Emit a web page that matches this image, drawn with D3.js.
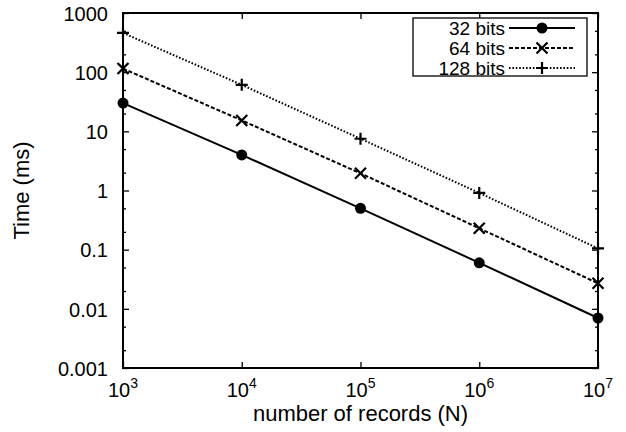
<!DOCTYPE html>
<html>
<head>
<meta charset="utf-8">
<script src="https://cdn.jsdelivr.net/npm/d3@7"></script>
<style>
  body { margin: 0; background: #fff; }
  svg text { font-family: "Liberation Sans", Arial, Helvetica, sans-serif; fill: #000; }
</style>
</head>
<body>
<svg id="chart" width="626" height="432"></svg>
<script>
// DATA
var records = [1e3, 1e4, 1e5, 1e6, 1e7];
var time32 = [30, 4, 0.5, 0.06, 0.007];
var time64 = [115, 15.3, 1.95, 0.23, 0.027];
var time128 = [460, 61, 7.5, 0.91, 0.105];
var seriesNames = ['32 bits', '64 bits', '128 bits'];
var yTickValues = [0.001, 0.01, 0.1, 1, 10, 100, 1000];
var yTickLabels = ['0.001', '0.01', '0.1', '1', '10', '100', '1000'];
var xTickExps = [3, 4, 5, 6, 7];

// LAYOUT
var width = 626, height = 432;
var margin = {top: 13, right: 28, bottom: 64, left: 123};
var svg = d3.select('#chart');

var x = d3.scaleLog().domain([1e3, 1e7]).range([margin.left, width - margin.right]);
var y = d3.scaleLog().domain([0.001, 1000]).range([height - margin.bottom, margin.top]);

// minor ticks at 2 and 5 of each decade
var yMinor = [];
yTickValues.slice(0, -1).forEach(function(v) { yMinor.push(v * 2, v * 5); });

//.................................................................................//
// AXES
var tickFmt = function(d) { return yTickLabels[yTickValues.indexOf(d)]; };

var yLeft = svg.append('g').attr('transform', 'translate(' + margin.left + ',0)');
yLeft.call(d3.axisLeft(y).tickValues(yTickValues).tickFormat(tickFmt).tickSize(-6).tickPadding(15));
var yLeftMinor = svg.append('g').attr('transform', 'translate(' + margin.left + ',0)');
yLeftMinor.call(d3.axisLeft(y).tickValues(yMinor).tickFormat('').tickSize(-3));
var yRight = svg.append('g').attr('transform', 'translate(' + (width - margin.right) + ',0)');
yRight.call(d3.axisRight(y).tickValues(yTickValues.concat(yMinor)).tickFormat('')
  .tickSize(0));
yRight.selectAll('.tick line').attr('x2', function(d) { return yMinor.indexOf(d) >= 0 ? -3 : -6; });

var xBottom = svg.append('g').attr('transform', 'translate(0,' + (height - margin.bottom) + ')');
xBottom.call(d3.axisBottom(x).tickValues(records).tickFormat('').tickSize(-6));
var xTop = svg.append('g').attr('transform', 'translate(0,' + margin.top + ')');
xTop.call(d3.axisTop(x).tickValues(records).tickFormat('').tickSize(-6));

svg.selectAll('.domain').remove();
svg.selectAll('.tick line').attr('stroke', '#000').attr('stroke-width', 1.3);
yLeft.selectAll('.tick text').style('font-size', '20px').attr('dy', '0.36em');

// x tick labels 10^n
xTickExps.forEach(function(e) {
  var t = svg.append('text')
    .attr('x', x(Math.pow(10, e)))
    .attr('y', 397)
    .attr('text-anchor', 'middle')
    .style('font-size', '20px');
  t.append('tspan').text('10');
  t.append('tspan').attr('dy', -9).style('font-size', '14px').text(e);
});

// frame
svg.append('rect')
  .attr('x', margin.left).attr('y', margin.top)
  .attr('width', width - margin.left - margin.right)
  .attr('height', height - margin.top - margin.bottom)
  .attr('fill', 'none').attr('stroke', '#000').attr('stroke-width', 2);

// axis titles
svg.append('text')
  .attr('x', (margin.left + width - margin.right) / 2)
  .attr('y', 421)
  .attr('text-anchor', 'middle')
  .style('font-size', '22px')
  .text('number of records (N)');
svg.append('text')
  .attr('transform', 'translate(29,' + ((margin.top + height - margin.bottom) / 2) + ') rotate(-90)')
  .attr('text-anchor', 'middle')
  .style('font-size', '22px')
  .text('Time (ms)');

//.................................................................................//
// MARKERS
function drawMarker(g, type, cx, cy) {
  if (type === 'circle') {
    g.append('circle').attr('cx', cx).attr('cy', cy).attr('r', 5.5).attr('fill', '#000');
  } else if (type === 'cross') {
    g.append('path')
      .attr('d', 'M' + (cx - 5.5) + ',' + (cy - 5.5) + 'L' + (cx + 5.5) + ',' + (cy + 5.5) +
                 'M' + (cx - 5.5) + ',' + (cy + 5.5) + 'L' + (cx + 5.5) + ',' + (cy - 5.5))
      .attr('stroke', '#000').attr('stroke-width', 2.2).attr('fill', 'none');
  } else {
    g.append('path')
      .attr('d', 'M' + (cx - 6) + ',' + cy + 'L' + (cx + 6) + ',' + cy +
                 'M' + cx + ',' + (cy - 6) + 'L' + cx + ',' + (cy + 6))
      .attr('stroke', '#000').attr('stroke-width', 2.2).attr('fill', 'none');
  }
}

var series = [
  {name: seriesNames[0], values: time32, dash: null, marker: 'circle'},
  {name: seriesNames[1], values: time64, dash: '4,2', marker: 'cross'},
  {name: seriesNames[2], values: time128, dash: '1.6,1.8', marker: 'plus'}
];

var line = d3.line()
  .x(function(d, i) { return x(records[i]); })
  .y(function(d) { return y(d); });

var plot = svg.append('g');
series.forEach(function(s) {
  plot.append('path')
    .datum(s.values)
    .attr('d', line)
    .attr('fill', 'none')
    .attr('stroke', '#000')
    .attr('stroke-width', 2)
    .attr('stroke-dasharray', s.dash);
  s.values.forEach(function(v, i) { drawMarker(plot, s.marker, x(records[i]), y(v)); });
});

//.................................................................................//
// LEGEND
var legend = svg.append('g');
legend.append('rect')
  .attr('x', 413).attr('y', 18).attr('width', 174).attr('height', 58)
  .attr('fill', '#fff').attr('stroke', '#000').attr('stroke-width', 1.3);
series.forEach(function(s, i) {
  var ly = 28 + i * 20;
  legend.append('text')
    .attr('x', 505).attr('y', ly).attr('dy', '0.36em')
    .attr('text-anchor', 'end')
    .style('font-size', '19px')
    .text(s.name);
  legend.append('line')
    .attr('x1', 509).attr('x2', 575).attr('y1', ly).attr('y2', ly)
    .attr('stroke', '#000').attr('stroke-width', 2)
    .attr('stroke-dasharray', s.dash);
  drawMarker(legend, s.marker, 542, ly);
});
</script>
</body>
</html>
